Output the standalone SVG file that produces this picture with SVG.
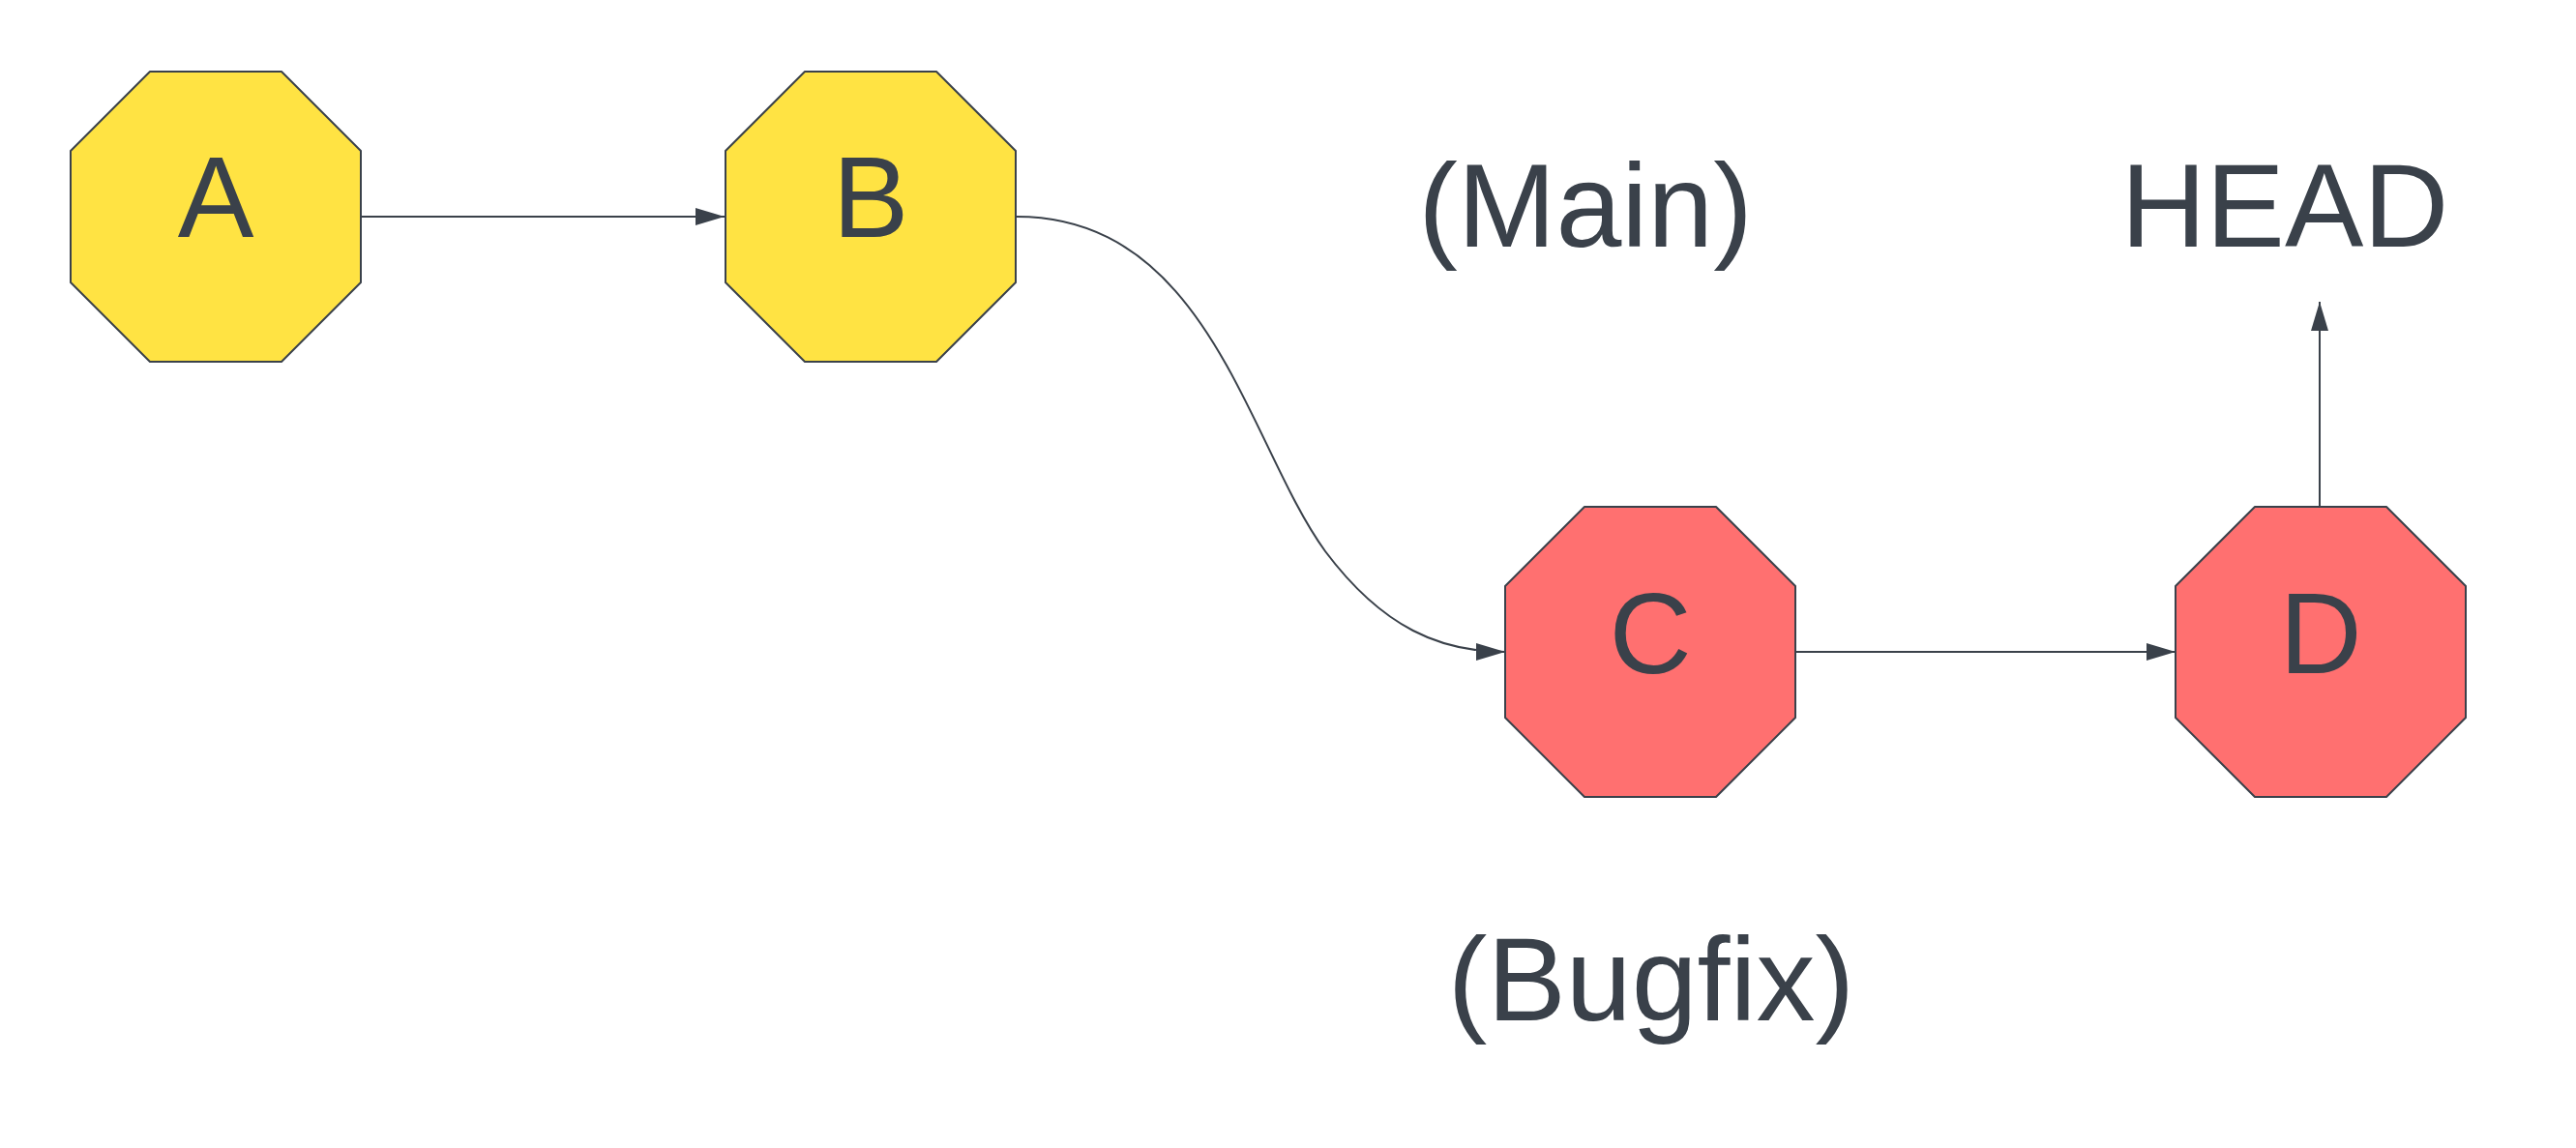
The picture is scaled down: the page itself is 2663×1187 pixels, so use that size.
<svg xmlns="http://www.w3.org/2000/svg" width="2663" height="1187" viewBox="0 0 2663 1187">
<style>
.oct{stroke:#3a414a;stroke-width:2;stroke-linejoin:round}
.y{fill:#ffe343}.r{fill:#ff7070}
text{font-family:"Liberation Sans",Arial,sans-serif;fill:#3a414a;text-anchor:middle}
.n{font-size:118px}.l{font-size:122px}
.c{fill:none;stroke:#3a414a;stroke-width:2}
</style>
<defs>
<marker id="ah" viewBox="0 0 10 10" refX="10" refY="5" markerWidth="30" markerHeight="18" markerUnits="userSpaceOnUse" orient="auto" preserveAspectRatio="none"><path d="M0 0L10 5L0 10z" fill="#3a414a"/></marker>
<path id="o" d="M-68 -150H68L150 -68V68L68 150H-68L-150 68V-68Z"/>
</defs>
<g id="connectors">
<path class="c" d="M374 224H749" marker-end="url(#ah)"/>
<path class="c" d="M1051 224C1250 224 1290 460 1370 570C1430 650 1490 674 1556 674" marker-end="url(#ah)"/>
<path class="c" d="M1856 674H2249" marker-end="url(#ah)"/>
<path class="c" d="M2398 524V312" marker-end="url(#ah)" stroke-width="1.5"/>
</g>
<g id="A"><use href="#o" class="oct y" transform="translate(223,224)"/><text class="n" x="223" y="245">A</text></g>
<g id="B"><use href="#o" class="oct y" transform="translate(900,224)"/><text class="n" x="900" y="245">B</text></g>
<g id="C"><use href="#o" class="oct r" transform="translate(1706,674)"/><text class="n" x="1706" y="696">C</text></g>
<g id="D"><use href="#o" class="oct r" transform="translate(2399,674)"/><text class="n" x="2399" y="696">D</text></g>
<g id="Main"><text class="l" x="1639" y="255">(Main)</text></g>
<g id="HEAD"><text class="l" x="2362" y="255">HEAD</text></g>
<g id="Bugfix"><text class="l" x="1707" y="1055">(Bugfix)</text></g>
</svg>
